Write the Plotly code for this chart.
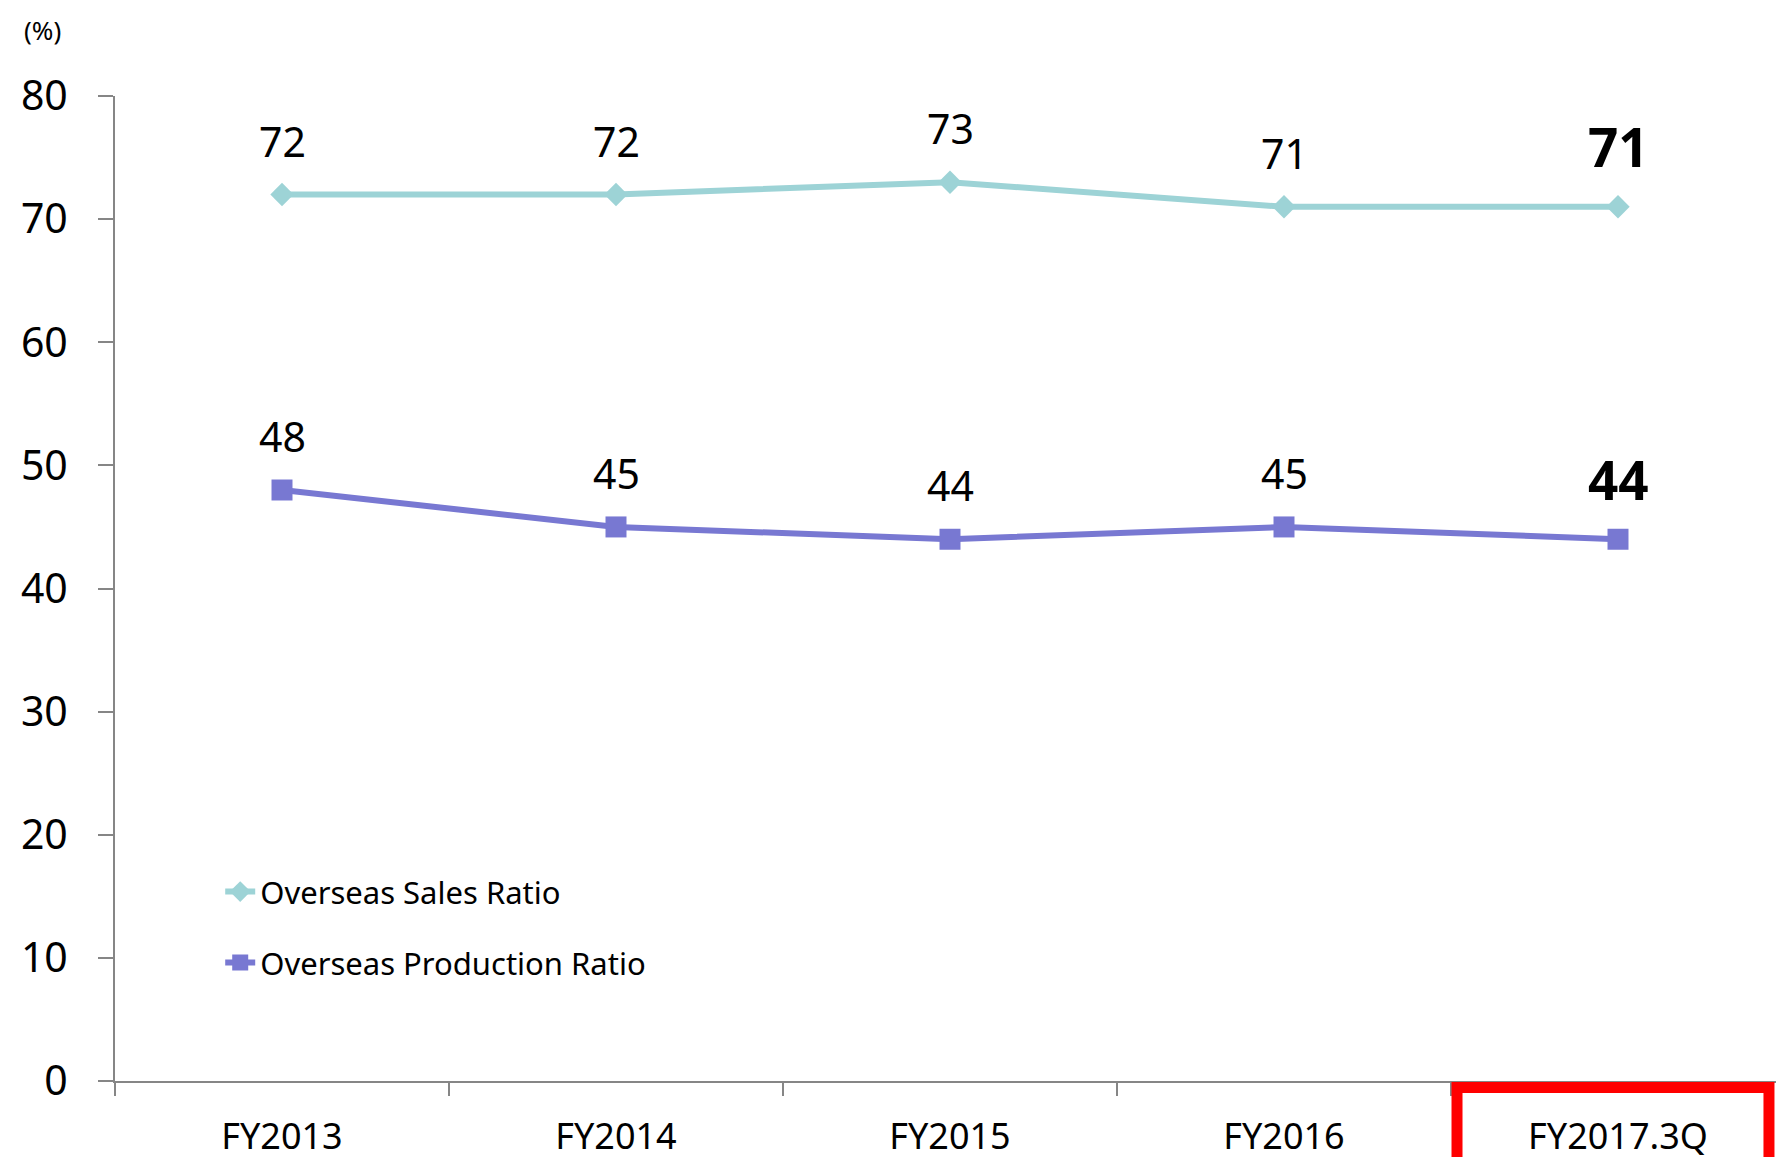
import plotly.graph_objects as go

categories = ["FY2013", "FY2014", "FY2015", "FY2016", "FY2017.3Q"]
sales_ratio = [72, 72, 73, 71, 71]
production_ratio = [48, 45, 44, 45, 44]
series_names = ["Overseas Sales Ratio", "Overseas Production Ratio"]
y_ticks = [0, 10, 20, 30, 40, 50, 60, 70, 80]

SALES_COLOR = "rgb(157,211,214)"
PROD_COLOR = "rgb(120,120,210)"
FONT = "Noto Sans, Open Sans, DejaVu Sans, sans-serif"

# plot area (figure px): left 107, right 1777, top 88, bottom 1073
PL, PR, PT, PB = 107, 1777, 88, 1073
PW, PH = PR - PL, PB - PT

fig = go.Figure()
fig.add_trace(go.Scatter(
    x=categories, y=sales_ratio, name=series_names[0], mode="lines+markers",
    line=dict(color=SALES_COLOR, width=6),
    marker=dict(symbol="diamond", size=18, color=SALES_COLOR),
    legend="legend",
))
fig.add_trace(go.Scatter(
    x=categories, y=production_ratio, name=series_names[1], mode="lines+markers",
    line=dict(color=PROD_COLOR, width=6),
    marker=dict(symbol="square", size=21, color=PROD_COLOR),
    legend="legend2",
))

annotations = []
last = len(categories) - 1
for series in (sales_ratio, production_ratio):
    for i, (c, v) in enumerate(zip(categories, series)):
        bold = i == last
        annotations.append(dict(
            x=c, y=v, xref="x", yref="y", text=f"<b>{v}</b>" if bold else str(v),
            showarrow=False, yshift=60 if bold else 54,
            font=dict(family=FONT, size=53 if bold else 41, color="black"),
        ))
annotations.append(dict(
    x=(34 - PL) / PW, y=(PB - 22) / PH, xref="paper", yref="paper",
    xanchor="center", yanchor="middle", text="(%)", showarrow=False,
    font=dict(family=FONT, size=26, color="black"),
))

fig.update_layout(
    width=1784, height=1157,
    margin=dict(l=PL, r=1784 - PR, t=PT, b=1157 - PB, autoexpand=False),
    paper_bgcolor="white", plot_bgcolor="white",
    font=dict(family=FONT, color="black"),
    annotations=annotations,
    shapes=[dict(
        type="rect", xref="x", yref="paper",
        x0=3.518, x1=4.452, y0=-0.12, y1=-0.0066,
        line=dict(color="rgb(255,0,0)", width=11), fillcolor="rgba(0,0,0,0)",
    )],
    legend=dict(
        x=0.063, y=0.192, xanchor="left", yanchor="middle",
        font=dict(family=FONT, size=31, color="black"),
        bgcolor="rgba(0,0,0,0)",
    ),
    legend2=dict(
        x=0.063, y=0.12, xanchor="left", yanchor="middle",
        font=dict(family=FONT, size=31, color="black"),
        bgcolor="rgba(0,0,0,0)",
    ),
    showlegend=True,
)
fig.update_xaxes(
    type="category", range=[-0.5, len(categories) - 0.5], automargin=False,
    showline=True, linecolor="rgb(134,134,134)", linewidth=2,
    ticks="outside", tickson="boundaries", ticklen=13, tickcolor="rgb(134,134,134)", tickwidth=2,
    showgrid=False, zeroline=False,
    tickfont=dict(family=FONT, size=36, color="black"),
    ticklabelstandoff=23,
)
fig.update_yaxes(
    range=[0, 80], tickvals=y_ticks, automargin=False,
    showline=True, linecolor="rgb(134,134,134)", linewidth=2,
    ticks="outside", ticklen=15, tickcolor="rgb(134,134,134)", tickwidth=2,
    showgrid=False, zeroline=False,
    tickfont=dict(family=FONT, size=41, color="black"),
    ticklabelstandoff=22,
)

fig.write_html("out.html")
